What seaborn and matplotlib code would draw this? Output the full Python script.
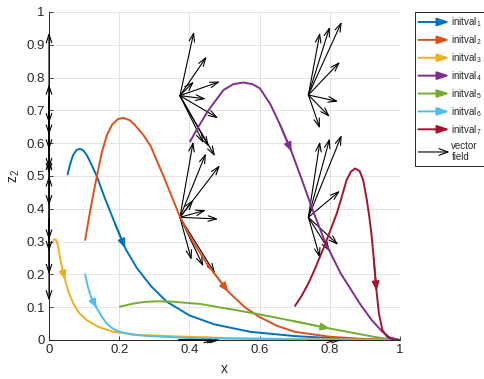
import numpy as np
import pandas as pd
import seaborn as sns
import matplotlib
matplotlib.use("Agg")
import matplotlib.pyplot as plt
from matplotlib.patches import FancyArrowPatch
from matplotlib.legend_handler import HandlerBase

# ---------------- data ----------------
curve_names = ["initval$_1$", "initval$_2$", "initval$_3$", "initval$_4$",
               "initval$_5$", "initval$_6$", "initval$_7$"]
curve_colors = ["#0072BD", "#D95319", "#EDB120", "#7E2F8E", "#77AC30", "#4DBEEE", "#A2142F"]

x1 = [0.053, 0.06, 0.068, 0.078, 0.088, 0.098, 0.108, 0.12, 0.136, 0.16, 0.19, 0.217, 0.25,
      0.29, 0.335, 0.40, 0.47, 0.573, 0.70, 0.80, 0.90, 1.0]
z1 = [0.505, 0.535, 0.562, 0.579, 0.583, 0.578, 0.563, 0.537, 0.50, 0.43, 0.35, 0.28, 0.22,
      0.165, 0.117, 0.075, 0.048, 0.025, 0.012, 0.006, 0.002, 0.0]

x2 = [0.103, 0.115, 0.129, 0.15, 0.165, 0.18, 0.197, 0.212, 0.23, 0.245, 0.269, 0.29, 0.326,
      0.373, 0.41, 0.449, 0.511, 0.56, 0.60, 0.65, 0.70, 0.80, 0.90, 1.0]
z2 = [0.305, 0.38, 0.46, 0.57, 0.625, 0.657, 0.674, 0.677, 0.67, 0.655, 0.625, 0.59, 0.50,
      0.376, 0.30, 0.234, 0.147, 0.098, 0.07, 0.043, 0.025, 0.01, 0.003, 0.0]

x3 = [0.012, 0.018, 0.022, 0.026, 0.031, 0.038, 0.046, 0.056, 0.069, 0.085, 0.107, 0.14, 0.183,
      0.25, 0.335, 0.5, 0.7, 1.0]
z3 = [0.305, 0.307, 0.302, 0.285, 0.254, 0.215, 0.183, 0.145, 0.112, 0.083, 0.061, 0.04, 0.025,
      0.016, 0.012, 0.006, 0.003, 0.0]

x4 = [0.402, 0.42, 0.454, 0.497, 0.525, 0.554, 0.58, 0.601, 0.63, 0.658, 0.691, 0.72, 0.75,
      0.786, 0.83, 0.886, 0.92, 0.95, 0.97, 1.0]
z4 = [0.605, 0.64, 0.70, 0.762, 0.78, 0.785, 0.78, 0.767, 0.72, 0.657, 0.574, 0.49, 0.40,
      0.30, 0.205, 0.11, 0.06, 0.025, 0.008, 0.0]

x5 = [0.202, 0.24, 0.27, 0.307, 0.35, 0.43, 0.50, 0.544, 0.60, 0.70, 0.80, 0.87, 0.924, 0.96, 1.0]
z5 = [0.1016, 0.111, 0.116, 0.118, 0.117, 0.11, 0.097, 0.089, 0.078, 0.057, 0.035, 0.021, 0.01,
      0.004, 0.0]

x6 = [0.103, 0.11, 0.12, 0.136, 0.15, 0.164, 0.18, 0.2, 0.24, 0.285, 0.4, 0.6, 0.8, 1.0]
z6 = [0.2, 0.165, 0.13, 0.097, 0.072, 0.051, 0.036, 0.025, 0.016, 0.012, 0.006, 0.003, 0.001, 0.0]

x7 = [0.701, 0.72, 0.74, 0.757, 0.772, 0.786, 0.80, 0.82, 0.835, 0.848, 0.86, 0.872, 0.885, 0.895,
      0.905, 0.912, 0.919, 0.925, 0.933, 0.94, 0.95, 0.965, 0.98, 1.0]
z7 = [0.104, 0.135, 0.175, 0.215, 0.254, 0.29, 0.33, 0.386, 0.44, 0.488, 0.513, 0.523, 0.515, 0.488,
      0.43, 0.38, 0.32, 0.25, 0.15, 0.08, 0.03, 0.008, 0.002, 0.0]

curves_x = [x1, x2, x3, x4, x5, x6, x7]
curves_z = [z1, z2, z3, z4, z5, z6, z7]
arrow_index = [11, 16, 6, 10, 10, 3, 18]   # point on each trajectory carrying its direction arrow

# vector field: base points and arrow tips
vf_base_x = [0.373] * 9 + [0.373] * 9 + [0.739] * 7 + [0.739] * 7 + [0.0] * 14 + [0.37] * 3 + [0.739] * 2
vf_base_y = [0.745] * 9 + [0.374] * 9 + [0.747] * 7 + [0.374] * 7 + [0.74] * 8 + [0.37] * 6 + [0.0] * 3 + [0.0] * 2
vf_tip_x = [0.413, 0.449, 0.487, 0.447, 0.413, 0.482, 0.44, 0.473, 0.455,
            0.411, 0.447, 0.487, 0.447, 0.482, 0.411, 0.406, 0.44, 0.473,
            0.772, 0.80, 0.834, 0.829, 0.824, 0.80, 0.772,
            0.772, 0.80, 0.834, 0.829, 0.824, 0.80, 0.772,
            0.0, 0.0, 0.0, 0.0, 0.0, 0.0, 0.0, 0.0, 0.0, 0.0, 0.0, 0.0, 0.0, 0.0,
            0.47, 0.48, 0.487, 0.82, 0.834]
vf_tip_y = [0.94, 0.864, 0.788, 0.735, 0.788, 0.676, 0.60, 0.56, 0.59,
            0.605, 0.569, 0.533, 0.396, 0.369, 0.427, 0.244, 0.224, 0.203,
            0.937, 0.955, 0.97, 0.848, 0.727, 0.68, 0.645,
            0.605, 0.615, 0.625, 0.455, 0.29, 0.27, 0.25,
            0.937, 0.78, 0.66, 0.625, 0.58, 0.523, 0.508, 0.41,
            0.305, 0.27, 0.2, 0.12, 0.55, 0.5,
            0.0, 0.0, 0.0, 0.0, 0.0]

x_ticks = [0, 0.2, 0.4, 0.6, 0.8, 1]
x_tick_labels = ["0", "0.2", "0.4", "0.6", "0.8", "1"]
y_ticks = [0, 0.1, 0.2, 0.3, 0.4, 0.5, 0.6, 0.7, 0.8, 0.9, 1]
y_tick_labels = ["0", "0.1", "0.2", "0.3", "0.4", "0.5", "0.6", "0.7", "0.8", "0.9", "1"]

# ---------------- style ----------------
sns.set_style("white")
plt.rcParams["font.family"] = ["Liberation Sans", "DejaVu Sans"]
plt.rcParams["mathtext.fontset"] = "custom"
plt.rcParams["mathtext.rm"] = "Liberation Sans"
plt.rcParams["mathtext.it"] = "Liberation Sans:italic"
plt.rcParams["mathtext.bf"] = "Liberation Sans:bold"

fig = plt.figure(figsize=(4.84, 3.79), dpi=100)
ax = fig.add_axes([49 / 484, 39 / 379, 351 / 484, 328 / 379])

rows = []
for name, xs, zs in zip(curve_names, curves_x, curves_z):
    for xv, zv in zip(xs, zs):
        rows.append({"curve": name, "x": xv, "z2": zv})
df = pd.DataFrame(rows)

# vector field (drawn first, in black, open heads)
for bx, by, tx, ty in zip(vf_base_x, vf_base_y, vf_tip_x, vf_tip_y):
    ax.annotate("", xy=(tx, ty), xytext=(bx, by), xycoords="data", textcoords="data",
                arrowprops=dict(arrowstyle="->,head_length=0.6,head_width=0.2", color="black",
                                lw=0.8, shrinkA=0, shrinkB=0), zorder=3)

sns.lineplot(data=df, x="x", y="z2", hue="curve", palette=dict(zip(curve_names, curve_colors)),
             sort=False, estimator=None, legend=False, lw=1.4, ax=ax, zorder=4)

for xs, zs, k, c in zip(curves_x, curves_z, arrow_index, curve_colors):
    ax.annotate("", xy=(xs[k], zs[k]), xytext=(xs[k - 1], zs[k - 1]), xycoords="data",
                textcoords="data",
                arrowprops=dict(arrowstyle="-|>,head_length=0.6,head_width=0.25", color=c,
                                lw=1.2, shrinkA=0, shrinkB=0, mutation_scale=9), zorder=5)

ax.set_xlim(0, 1)
ax.set_ylim(0, 1)
ax.set_xticks(x_ticks)
ax.set_xticklabels(x_tick_labels)
ax.set_yticks(y_ticks)
ax.set_yticklabels(y_tick_labels)
ax.grid(True, color="#e3e3e3", lw=0.7)
ax.set_axisbelow(True)
for s in ["top", "right"]:
    ax.spines[s].set_visible(False)
for s in ["left", "bottom"]:
    ax.spines[s].set_color("#262626")
    ax.spines[s].set_linewidth(0.7)
ax.tick_params(direction="in", length=3, width=0.6, colors="#262626", labelsize=9.5,
               left=True, bottom=True, pad=3)
ax.set_xlabel("x", fontsize=10, color="#262626", labelpad=4)
ax.set_ylabel(r"z$_{\mathrm{2}}$", fontsize=10, color="#262626", labelpad=3)


# ---------------- legend ----------------
class ArrowHandle:
    def __init__(self, color, style, lw):
        self.color = color
        self.style = style
        self.lw = lw


class HandlerArrow(HandlerBase):
    def create_artists(self, legend, orig_handle, xdescent, ydescent, width, height, fontsize, trans):
        y = height / 2 - ydescent
        p = FancyArrowPatch((-xdescent, y), (-xdescent + width, y), arrowstyle=orig_handle.style,
                            mutation_scale=8, color=orig_handle.color, lw=orig_handle.lw,
                            shrinkA=0, shrinkB=0, transform=trans)
        return [p]


handles = [ArrowHandle(c, "-|>,head_length=0.9,head_width=0.3", 1.4) for c in curve_colors]
handles.append(ArrowHandle("black", "->,head_length=0.8,head_width=0.3", 0.8))
labels = curve_names + ["vector\nfield"]
leg = fig.legend(handles, labels, handler_map={ArrowHandle: HandlerArrow()},
                 loc="upper left", bbox_to_anchor=(415 / 484, 1 - 12 / 379),
                 frameon=True, fancybox=False, framealpha=1, edgecolor="black",
                 fontsize=7, handlelength=3.2, handletextpad=0.2, labelspacing=0.42,
                 borderpad=0.35, borderaxespad=0)
leg.get_frame().set_linewidth(0.6)

fig.savefig("out.png", dpi=100)
